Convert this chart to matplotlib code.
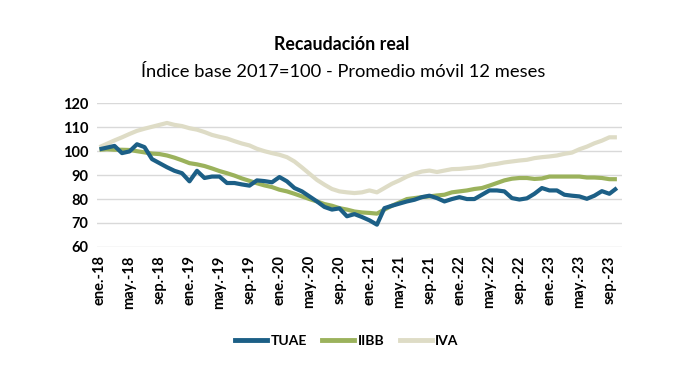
import numpy as np
from matplotlib import pyplot as plt
from matplotlib.lines import Line2D

plt.rcParams['font.family'] = ['Lato', 'DejaVu Sans']

meses = ['ene', 'feb', 'mar', 'abr', 'may', 'jun', 'jul', 'ago', 'sep', 'oct', 'nov', 'dic']
n_meses = 70  # ene-18 a oct-23
etiquetas = ['%s.-%d' % (meses[i % 12], 18 + i // 12) for i in range(n_meses)]

tuae = [100.8, 101.5, 102.2, 99.2, 99.9, 102.9, 101.7, 96.7, 95.0, 93.3,
        91.8, 90.8, 87.4, 91.8, 88.8, 89.4, 89.4, 86.7, 86.7, 86.1,
        85.6, 87.8, 87.5, 87.0, 89.2, 87.4, 84.6, 83.2, 81.1, 79.0,
        76.7, 75.6, 76.1, 72.8, 73.7, 72.5, 71.1, 69.3, 76.2, 77.2,
        78.1, 79.0, 79.7, 80.8, 81.4, 80.4, 79.0, 80.0, 80.8, 80.0,
        80.0, 81.8, 83.6, 83.6, 83.2, 80.4, 79.8, 80.3, 82.2, 84.6,
        83.6, 83.6, 81.8, 81.4, 81.1, 80.1, 81.4, 83.3, 82.2, 84.6]

iibb = [100.6, 100.8, 100.6, 100.6, 100.5, 100.0, 99.5, 99.0, 98.8, 98.2,
        97.3, 96.2, 95.0, 94.5, 93.8, 92.8, 91.7, 90.8, 89.8, 88.6,
        87.6, 86.6, 85.7, 85.0, 83.9, 83.2, 82.2, 81.1, 80.0, 79.0,
        77.9, 77.2, 76.2, 75.6, 74.8, 74.4, 74.2, 73.9, 75.6, 77.2,
        78.6, 80.0, 80.4, 80.8, 81.1, 81.5, 81.8, 82.8, 83.2, 83.6,
        84.2, 84.6, 85.6, 86.7, 87.8, 88.5, 88.8, 88.8, 88.4, 88.6,
        89.4, 89.4, 89.4, 89.4, 89.4, 89.0, 89.0, 88.8, 88.3, 88.3]

iva = [101.7, 103.1, 104.5, 105.8, 107.2, 108.5, 109.4, 110.2, 111.0, 111.8,
       111.0, 110.5, 109.6, 109.0, 108.0, 106.8, 106.0, 105.3, 104.2, 103.2,
       102.4, 101.0, 100.0, 99.2, 98.5, 97.5, 95.7, 93.2, 90.6, 88.0,
       86.0, 84.2, 83.2, 82.8, 82.5, 82.8, 83.6, 82.8, 84.6, 86.4,
       87.8, 89.4, 90.6, 91.5, 91.9, 91.3, 91.9, 92.5, 92.6, 92.9,
       93.2, 93.6, 94.3, 94.7, 95.3, 95.7, 96.1, 96.4, 97.1, 97.5,
       97.8, 98.2, 98.9, 99.4, 100.8, 101.9, 103.3, 104.4, 105.8, 105.8]

series = ['TUAE', 'IIBB', 'IVA']
colores = ['#1c5f86', '#9bb25c', '#dedcc6']

fig = plt.figure(figsize=(6.98, 3.87), dpi=100)
ax = fig.add_axes([0.139, 0.362, 0.752, 0.371])

x = np.arange(n_meses)
# IVA abajo, TUAE arriba
for datos, col, z in zip([iva, iibb, tuae], colores[::-1], [2, 3, 4]):
  ax.plot(x, datos, color=col, linewidth=3, zorder=z, solid_capstyle='butt')

ax.set_ylim(60, 120)
ax.set_yticks(range(60, 121, 10))
ax.set_xlim(-0.33, 69.67)
ax.set_xticks(x[::4])
ax.set_xticklabels(etiquetas[::4], rotation=90, fontweight='bold', fontsize=10.5)
for t in ax.get_yticklabels():
  t.set_fontweight('bold')
  t.set_fontsize(10.5)
ax.tick_params(length=0, pad=6, colors='#000000')
ax.grid(axis='y', color='#d9d9d9', linewidth=1)
ax.set_axisbelow(True)
for s in ax.spines.values():
  s.set_visible(False)

fig.text(0.49, 0.884, 'Recaudación real', ha='center', va='center', fontsize=12.8, fontweight='bold')
fig.text(0.492, 0.814, 'Índice base 2017=100 - Promedio móvil 12 meses', ha='center', va='center', fontsize=13.2)

handles = [Line2D([0], [0], color=c, linewidth=3.5) for c in colores]
leg = fig.legend(handles, series, loc='center', bbox_to_anchor=(0.497, 0.118), ncol=3,
                 frameon=False, handlelength=2.3, handletextpad=0.25, columnspacing=1.1,
                 prop={'weight': 'bold', 'size': 10})

fig.savefig('out.png', dpi=100)
